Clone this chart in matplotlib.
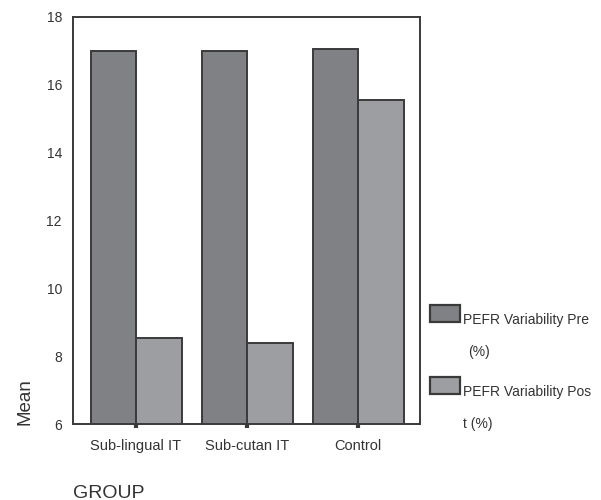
import matplotlib.pyplot as plt
from matplotlib.patches import Rectangle
import numpy as np

plt.rcParams['font.family'] = ['Liberation Sans', 'DejaVu Sans']

groups = ["Sub-lingual IT", "Sub-cutan IT", "Control"]
pre_values = [17.0, 17.0, 17.05]
post_values = [8.55, 8.4, 15.55]
series_labels = [("PEFR Variability Pre", "(%)"), ("PEFR Variability Pos", "t (%)")]
y_ticks = [6, 8, 10, 12, 14, 16, 18]

pre_color = "#808185"
post_color = "#9d9ea2"
edge_color = "#3a3a3a"
text_color = "#333333"

W, H = 601, 500
fig = plt.figure(figsize=(W / 100, H / 100), dpi=100)
ax = fig.add_axes([73 / W, 1 - 424 / H, (420 - 73) / W, (424 - 17) / H])

x = np.arange(len(groups))
width = 0.41
ax.bar(x - width / 2, pre_values, width, bottom=0, color=pre_color,
       edgecolor=edge_color, linewidth=1.4)
ax.bar(x + width / 2, post_values, width, bottom=0, color=post_color,
       edgecolor=edge_color, linewidth=1.4)

ax.set_ylim(6, 18)
ax.set_xlim(-0.568, 2.558)
ax.set_yticks(y_ticks)
ax.set_xticks(x)
ax.set_xticklabels(groups)
ax.tick_params(axis='y', length=0, pad=8, labelsize=10, labelcolor=text_color)
ax.tick_params(axis='x', length=3, width=3, color=edge_color, pad=8,
               labelsize=10.5, labelcolor=text_color)
for spine in ax.spines.values():
    spine.set_color(edge_color)
    spine.set_linewidth(1.4)

fig.text(25 / W, 1 - 402 / H, "Mean", rotation=90, ha='center', va='center',
         fontsize=13.5, color=text_color)
fig.text(73 / W, 1 - 493 / H, "GROUP", ha='left', va='center',
         fontsize=14, color=text_color)

# legend drawn by hand to keep the wrapped labels
legend_rows = [(305, pre_color, 468), (377, post_color, 463)]
for (top, color, x2), (line1, line2) in zip(legend_rows, series_labels):
    fig.add_artist(Rectangle((430 / W, 1 - (top + 17) / H), 30 / W, 17 / H,
                             transform=fig.transFigure, facecolor=color,
                             edgecolor=edge_color, linewidth=1.6))
    fig.text(463 / W, 1 - (top + 15) / H, line1, ha='left', va='center',
             fontsize=10, color=text_color)
    fig.text(x2 / W, 1 - (top + 47) / H, line2, ha='left', va='center',
             fontsize=10, color=text_color)

fig.savefig("out.png", dpi=100)
